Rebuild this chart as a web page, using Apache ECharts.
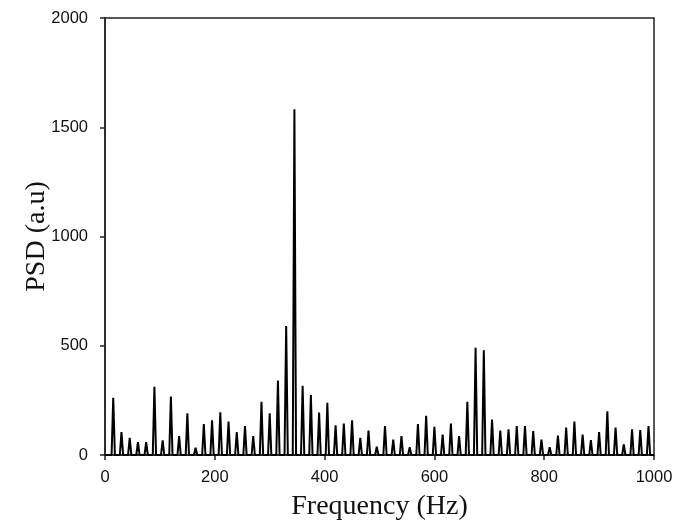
<!DOCTYPE html>
<html>
<head>
<meta charset="utf-8">
<script src="https://cdn.jsdelivr.net/npm/echarts@6/dist/echarts.min.js"></script>
<style>html,body{margin:0;padding:0;background:#fff}#c{width:687px;height:526px}</style>
</head>
<body>
<div id="c"></div>
<script>
const peakFreqs = [15,30,45,60,75,90,105,120,135,150,165,180,195,210,225,240,255,270,285,300,315,330,345,360,375,390,405,420,435,450,465,480,495,510,525,540,555,570,585,600,615,630,645,660,675,690,705,720,735,750,765,780,795,810,825,840,855,870,885,900,915,930,945,960,975,990];
const peakPSD = [262,105,79,59,59,312,67,268,86,191,33,142,159,195,153,105,132,86,244,191,341,590,1582,317,274,194,239,136,144,159,79,112,38,132,70,86,36,142,180,129,94,144,86,244,491,479,162,112,118,132,132,110,71,36,89,126,153,94,68,105,200,126,49,118,114,132];
const halfWidth = 3; // Hz, spike half-width at base
const xTicks = [0,200,400,600,800,1000];
const yTicks = [0,500,1000,1500,2000];

const lineData = [[0,0]];
peakFreqs.forEach((f,i)=>{
  lineData.push([f-halfWidth,0],[f,peakPSD[i]],[f+halfWidth,0]);
});
lineData.push([1000,0]);

const chart = echarts.init(document.getElementById('c'), null, {renderer:'canvas'});
chart.setOption({
  animation:false,
  backgroundColor:'#fff',
  grid:{left:105,top:18,right:33,bottom:68,show:true,borderColor:'#222',borderWidth:1.5,backgroundColor:'transparent'},
  xAxis:{
    type:'value',min:xTicks[0],max:xTicks[xTicks.length-1],interval:200,
    name:'Frequency (Hz)',nameLocation:'middle',nameGap:38,
    nameTextStyle:{fontFamily:'Liberation Serif',fontSize:28,color:'#111'},
    axisLine:{show:true,onZero:false,lineStyle:{color:'#222',width:1.5}},
    axisTick:{show:true,inside:false,length:5,lineStyle:{color:'#222',width:1.5}},
    axisLabel:{fontFamily:'Liberation Sans',fontSize:16.5,color:'#111',margin:14,formatter:v=>String(v)},
    splitLine:{show:false}
  },
  yAxis:{
    type:'value',min:yTicks[0],max:yTicks[yTicks.length-1],interval:500,
    name:'PSD (a.u)',nameLocation:'middle',nameGap:54,nameRotate:90,nameMoveOverlap:false,
    nameTextStyle:{fontFamily:'Liberation Serif',fontSize:28,color:'#111'},
    axisLine:{show:true,lineStyle:{color:'#222',width:1.5}},
    axisTick:{show:true,inside:false,length:5,lineStyle:{color:'#222',width:1.5}},
    axisLabel:{fontFamily:'Liberation Sans',fontSize:16.5,color:'#111',margin:17,formatter:v=>String(v)},
    splitLine:{show:false}
  },
  series:[{
    type:'line',data:lineData,showSymbol:false,symbol:'none',
    lineStyle:{color:'#000',width:2},
    clip:true
  }]
});
</script>
</body>
</html>
